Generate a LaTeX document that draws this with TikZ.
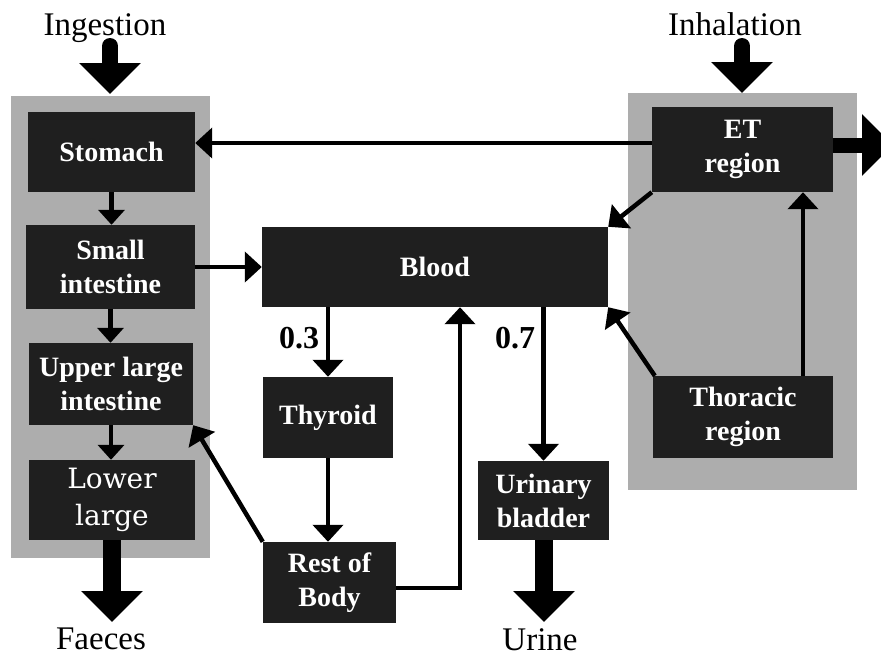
\documentclass[tikz,border=0pt]{standalone}
\usepackage{fontspec}
\setmainfont{Liberation Serif}
\newfontfamily\lowerfont{DejaVu Serif}
\usetikzlibrary{arrows.meta}
\begin{document}
\begin{tikzpicture}[x=1pt,y=-1pt,
  panel/.style={fill=black!32,draw=none,inner sep=0,minimum width=#1},
  box/.style={fill=black!88,text=white,inner sep=0,align=center,font=\bfseries\fontsize{28}{34}\selectfont},
  lbl/.style={inner sep=0,anchor=base,font=\fontsize{33}{36}\selectfont},
  num/.style={inner sep=0,font=\bfseries\fontsize{32}{36}\selectfont},
  flow/.style={line width=4.5pt,-{Triangle[width=30pt,length=17pt]}},
  small flow/.style={line width=4.5pt,-{Triangle[width=26pt,length=15pt]}},
  fat/.style={line width=16pt,line cap=round,-{Triangle[width=60pt,length=31pt]}}]
\useasboundingbox (0,0) rectangle (881,657);
\clip (0,0) rectangle (881,657);
% panels
\node[panel=199pt,minimum height=462pt] (lpanel) at (110.5,327) {};
\node[panel=229pt,minimum height=397pt] (rpanel) at (742.5,291.5) {};
% boxes
\node[box,minimum width=167pt,minimum height=80pt] (stomach) at (111.5,152) {Stomach};
\node[box,minimum width=169pt,minimum height=84pt] (small) at (110.5,267) {Small\\intestine};
\node[box,minimum width=164pt,minimum height=82pt] (upper) at (111,384) {Upper large\\intestine};
\node[box,minimum width=166pt,minimum height=80pt,font=\lowerfont\fontsize{28}{37}\selectfont] (lower) at (112,500) {Lower\\large};
\node[box,minimum width=346pt,minimum height=80pt] (blood) at (435,267) {Blood};
\node[box,minimum width=130pt,minimum height=81pt] (thyroid) at (328,417.5) {Thyroid};
\node[box,minimum width=133pt,minimum height=81pt] (rest) at (329.5,582.5) {Rest of\\Body};
\node[box,minimum width=131pt,minimum height=79pt] (urinary) at (543.5,500.5) {Urinary\\bladder};
\node[box,minimum width=181pt,minimum height=85pt] (et) at (742.5,149.5) {ET\\region};
\node[box,minimum width=180pt,minimum height=82pt] (thoracic) at (743,417) {Thoracic\\region};
% labels
\node[lbl] (ingestion) at (105,35) {Ingestion};
\node[lbl] (inhalation) at (735,35) {Inhalation};
\node[lbl] (faeces) at (101,649) {Faeces};
\node[lbl] (urine) at (540,650) {Urine};
\node[num] (n03) at (299,338) {0.3};
\node[num] (n07) at (515,338) {0.7};
% coordinates for free ends
\coordinate (ingtop) at (110,46);
\coordinate (ingtip) at (110,94);
\coordinate (inhtop) at (742,46);
\coordinate (inhtip) at (742,93);
\coordinate (faetip) at (112,622);
\coordinate (urtip) at (544,622);
\coordinate (exhtip) at (893,145);
% fat arrows
\draw[fat] (ingtop) -- (ingtip);
\draw[fat] (inhtop) -- (inhtip);
\draw[fat,line width=18pt,line cap=butt] (lower.south -| faetip) -- (faetip);
\draw[fat,line width=18pt,line cap=butt] (urinary.south -| urtip) -- (urtip);
\draw[fat,line width=15pt,line cap=butt] ([yshift=4.5pt]et.east) -- (exhtip);
% thin arrows
\draw[small flow] (stomach.south) -- (stomach.south |- small.north);
\draw[small flow] (small.south) -- (small.south |- upper.north);
\draw[small flow] (upper.south) -- (upper.south |- lower.north);
\draw[flow] (small.east) -- (small.east -| blood.west);
\draw[flow] (blood.south -| thyroid.north) -- (thyroid.north);
\draw[flow] (thyroid.south) -- (thyroid.south |- rest.north);
\draw[flow] ([yshift=-5.5pt]rest.east) -| ([xshift=25pt]blood.south);
\draw[flow] (rest.north west) -- (upper.south east);
\draw[flow] (blood.south -| urinary.north) -- (urinary.north);
\draw[flow] ([yshift=6.5pt]et.west) -- ([yshift=6.5pt]et.west -| stomach.east);
\draw[flow] (et.south west) -- (blood.north east);
\draw[flow] ([xshift=60pt]thoracic.north) -- ([xshift=60pt]thoracic.north |- et.south);
\draw[flow] ([xshift=2pt]thoracic.north west) -- (blood.south east);
\end{tikzpicture}
\end{document}
